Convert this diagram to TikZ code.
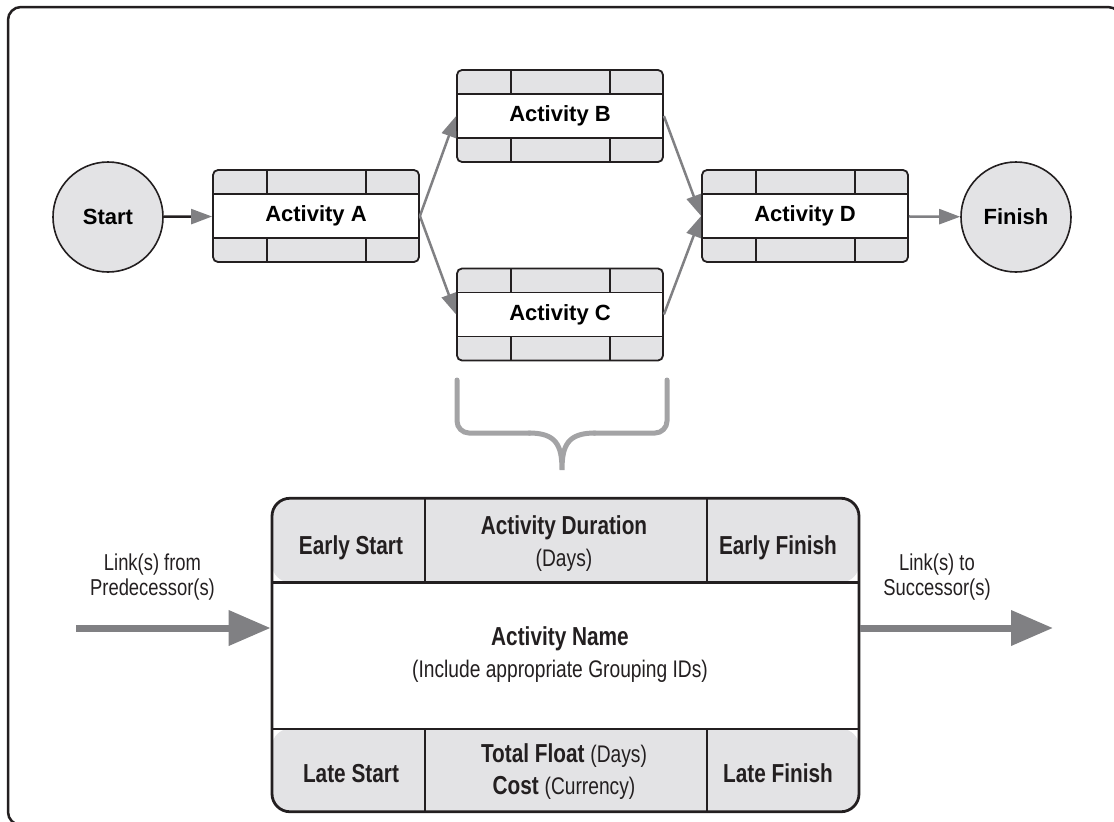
\documentclass[tikz,border=0pt]{standalone}
\usepackage{fontspec}
\usepackage{tikz}
\usetikzlibrary{calc,arrows.meta}
\setmainfont{Liberation Sans}
\newfontfamily\condfont[FakeStretch=0.8]{Liberation Sans}
\definecolor{cellgray}{RGB}{227,227,229}
\definecolor{linedark}{RGB}{35,31,32}
\definecolor{arrowgray}{RGB}{128,128,131}
\definecolor{bracegray}{RGB}{163,163,165}
% #1 top row, #2 bottom row, #3 left column, #4 right column, #5 rule width
\newcommand{\cellgrid}[5]{%
\path (path picture bounding box.north west) coordinate (gnw)
      (path picture bounding box.south east) coordinate (gse);
\fill[cellgray] (gnw) rectangle ($(gse |- gnw)+(0pt,-#1)$);
\fill[cellgray] ($(gnw |- gse)+(0pt,#2)$) rectangle (gse);
\draw[linedark, line width=#5] ($(gnw)+(0pt,-#1)$) -- ($(gse |- gnw)+(0pt,-#1)$);
\draw[linedark, line width=#5] ($(gnw |- gse)+(0pt,#2)$) -- ($(gse)+(0pt,#2)$);
\draw[linedark, line width=#5] ($(gnw)+(#3,0pt)$) -- ($(gnw)+(#3,-#1)$);
\draw[linedark, line width=#5] ($(gse |- gnw)+(-#4,0pt)$) -- ($(gse |- gnw)+(-#4,-#1)$);
\draw[linedark, line width=#5] ($(gnw |- gse)+(#3,0pt)$) -- ($(gnw |- gse)+(#3,#2)$);
\draw[linedark, line width=#5] ($(gse)+(-#4,0pt)$) -- ($(gse)+(-#4,#2)$);
}
\tikzset{
activity/.style = {draw = linedark, line width = 1.8pt, rounded corners = 5pt, fill = white,
  minimum width = 206pt, minimum height = 92pt, inner sep = 0pt,
  font = \fontsize{22}{25}\selectfont\bfseries,
  path picture = {\cellgrid{24pt}{24pt}{54pt}{53pt}{1.6pt}}},
terminal/.style = {circle, draw = linedark, line width = 1.6pt, fill = cellgray,
  minimum size = 110pt, inner sep = 0pt, font = \fontsize{22}{25}\selectfont\bfseries},
link/.style = {arrowgray, line width = 2.5pt, -{Triangle[length=21pt, width=15pt, color=arrowgray]}},
biglink/.style = {arrowgray, line width = 7pt, -{Triangle[length=42pt, width=34pt]}},
celltxt/.style = {inner sep = 0pt, align = center, text = linedark,
  font = \condfont\fontsize{26}{32}\selectfont\bfseries},
linktxt/.style = {inner sep = 0pt, align = center, text = linedark,
  font = \condfont\fontsize{23}{25}\selectfont}
}
\begin{document}
\begin{tikzpicture}[x = 1pt, y = -1pt]
\path[use as bounding box, clip] (0,0) rectangle (1114,822);
\draw[linedark, line width = 2.5pt, rounded corners = 13pt] (8,7) rectangle (1121,825);

% network
\node[terminal] (start) at (108,217) {Start};
\node[activity] (A) at (316,216) {Activity A};
\node[activity] (B) at (560,116) {Activity B};
\node[activity] (C) at (560,314.5) {Activity C};
\node[activity] (D) at (805,216) {Activity D};
\node[terminal] (finish) at (1016,217) {Finish};
\draw[link, linedark] (start) -- (A);
\draw[link] (A.east) -- (B.west);
\draw[link] (A.east) -- (C.west);
\draw[link] (B.east) -- (D.west);
\draw[link] (C.east) -- (D.west);
\draw[link] (D) -- (finish);

% brace
\draw[bracegray, line width = 5pt, line cap = round, rounded corners = 12pt]
  (457,380) -- (457,433) -- (530,433);
\draw[bracegray, line width = 5pt, line cap = round, rounded corners = 12pt]
  (667,380) -- (667,433) -- (594,433);
\draw[bracegray, line width = 5pt, line cap = round]
  (529,433) .. controls (556,433) and (562,445) .. (562,470)
  .. controls (562,445) and (568,433) .. (595,433);

% legend box
\node[draw = linedark, line width = 2.8pt, rounded corners = 18pt, fill = white,
  minimum width = 587pt, minimum height = 313.5pt, inner sep = 0pt,
  path picture = {\cellgrid{84pt}{83pt}{153pt}{152pt}{2.5pt}}] (legend) at (565.5,655) {};
\node[celltxt, anchor = base] (es) at (351,554) {Early Start};
\node[celltxt] (ad) at (564,544) {Activity Duration\\{\mdseries\fontsize{24}{32}\selectfont (Days)}};
\node[celltxt, anchor = base] (ef) at (778,554) {Early Finish};
\node[celltxt] (aname) at (560,655) {Activity Name\\{\mdseries\fontsize{24}{32}\selectfont (Include appropriate Grouping IDs)}};
\node[celltxt, anchor = base] (ls) at (351,782) {Late Start};
\node[celltxt] (tf) at (564,772) {Total Float {\mdseries\fontsize{24}{32}\selectfont (Days)}\\Cost {\mdseries\fontsize{24}{32}\selectfont (Currency)}};
\node[celltxt, anchor = base] (lf) at (778,782) {Late Finish};

% links in and out
\node[linktxt] (linkin) at (152.5,577) {Link(s) from\\Predecessor(s)};
\node[linktxt] (linkout) at (937,577) {Link(s) to\\Successor(s)};
\coordinate (predin) at (76,628);
\coordinate (succout) at (1053,628);
\draw[biglink] (predin) -- (legend.west |- predin);
\draw[biglink] (legend.east |- succout) -- (succout);
\end{tikzpicture}
\end{document}
